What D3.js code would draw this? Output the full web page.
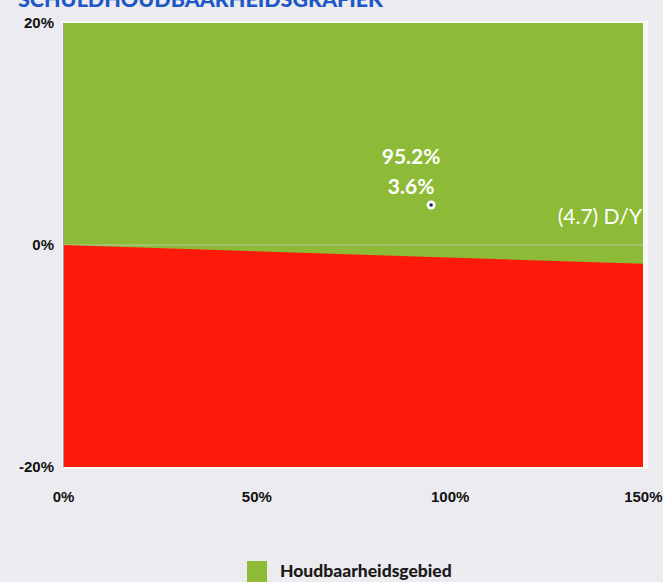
<!DOCTYPE html>
<html><head><meta charset="utf-8">
<script src="https://cdn.jsdelivr.net/npm/d3@7"></script>
<style>
html,body{margin:0;padding:0;background:#ecebef;}
svg{display:block;font-family:Lato,"Open Sans",sans-serif;}
</style></head>
<body>
<script>
// data
const titleText = "SCHULDHOUDBAARHEIDSGRAFIEK";
const xTicks = [0, 50, 100, 150];
const yTicks = [-20, 0, 20];
const boundaryX = [0, 150];          // schuldratio (%)
const boundaryY = [0, -1.7];         // grens (%)
const pointX = [95.2];
const pointY = [3.6];
const pointLabels = ["95.2%", "3.6%"];
const slopeLabel = "(4.7) D/Y";
const slopeLabelAt = [150, 2.5];
const legendLabels = ["Houdbaarheidsgebied"];

const W = 663, H = 582;
const m = {left: 63, right: 20, top: 23, bottom: 115};
const svg = d3.select("body").append("svg").attr("width", W).attr("height", H);
svg.append("rect").attr("width", W).attr("height", H).attr("fill", "#ecebef");

const x = d3.scaleLinear().domain([0, 150]).range([m.left, W - m.right]);
const y = d3.scaleLinear().domain([-20, 20]).range([H - m.bottom, m.top]);

// title (cut off at top, as in the reference)
svg.append("text").attr("x", 18).attr("y", 7)
  .attr("fill", "#1c58c6").attr("font-weight", 900).attr("font-size", 21)
  .attr("textLength", 365).attr("lengthAdjust", "spacingAndGlyphs")
  .text(titleText);

// plot border
svg.append("rect").attr("x", x(0) - 1).attr("y", y(20) - 2)
  .attr("width", x(150) - x(0) + 6).attr("height", y(-20) - y(20) + 4)
  .attr("fill", "#f7f7f9");

// green area
svg.append("rect").attr("x", x(0)).attr("y", y(20))
  .attr("width", x(150) - x(0)).attr("height", y(-20) - y(20))
  .attr("fill", "#8dbb37");

// zero gridline
svg.append("line").attr("x1", x(0)).attr("x2", x(150))
  .attr("y1", y(0)).attr("y2", y(0))
  .attr("stroke", "#b9c9a0").attr("stroke-width", 1.2);

// red area
const pts = boundaryX.map((d, i) => [d, boundaryY[i]]);
const area = d3.area().x(d => x(d[0])).y0(y(-20)).y1(d => y(d[1]));
svg.append("path").datum(pts).attr("d", area).attr("fill", "#fe1a0b");

// axes
const yAxis = d3.axisLeft(y).tickValues(yTicks).tickFormat(d => d + "%").tickSize(0).tickPadding(9);
const gy = svg.append("g").attr("transform", `translate(${x(0)},0)`).call(yAxis);
gy.select(".domain").attr("stroke", "#9a9aa0");
gy.selectAll("text").attr("font-size", 15).attr("font-weight", 900).attr("fill", "#111");

const xAxis = d3.axisBottom(x).tickValues(xTicks).tickFormat(d => d + "%").tickSize(0).tickPadding(24);
const gx = svg.append("g").attr("transform", `translate(0,${y(-20)})`).call(xAxis);
gx.select(".domain").remove();
gx.selectAll("text").attr("font-size", 15).attr("font-weight", 900).attr("fill", "#111");
gx.selectAll(".tick").filter(d => d === 150).select("text").attr("text-anchor", "end").attr("dx", 19);

// point
svg.selectAll("circle.pt").data(pointX).join("circle").attr("class", "pt")
  .attr("cx", d => x(d)).attr("cy", (d, i) => y(pointY[i])).attr("r", 4.5)
  .attr("fill", "#ffffff");
svg.selectAll("circle.pc").data(pointX).join("circle").attr("class", "pc")
  .attr("cx", d => x(d)).attr("cy", (d, i) => y(pointY[i])).attr("r", 1.8)
  .attr("fill", "#1e1e50");

// point labels
svg.selectAll("text.pl").data(pointLabels).join("text").attr("class", "pl")
  .attr("x", x(pointX[0]) - 20).attr("y", (d, i) => y(pointY[0]) - 41 + i * 30)
  .attr("text-anchor", "middle").attr("fill", "#ffffff")
  .attr("font-size", 21).attr("font-weight", 700).text(d => d);

svg.append("text").attr("x", x(slopeLabelAt[0]) - 1).attr("y", y(slopeLabelAt[1]) + 7)
  .attr("text-anchor", "end").attr("fill", "#ffffff")
  .attr("font-size", 21).text(slopeLabel);

// legend
const lg = svg.append("g").attr("transform", "translate(247,561)");
lg.append("rect").attr("width", 20).attr("height", 21).attr("fill", "#8dbb37");
lg.append("text").attr("x", 33).attr("y", 16).attr("font-size", 17.5).attr("font-weight", 900)
  .attr("fill", "#1a1a1a").text(legendLabels[0]);
</script>
</body></html>
